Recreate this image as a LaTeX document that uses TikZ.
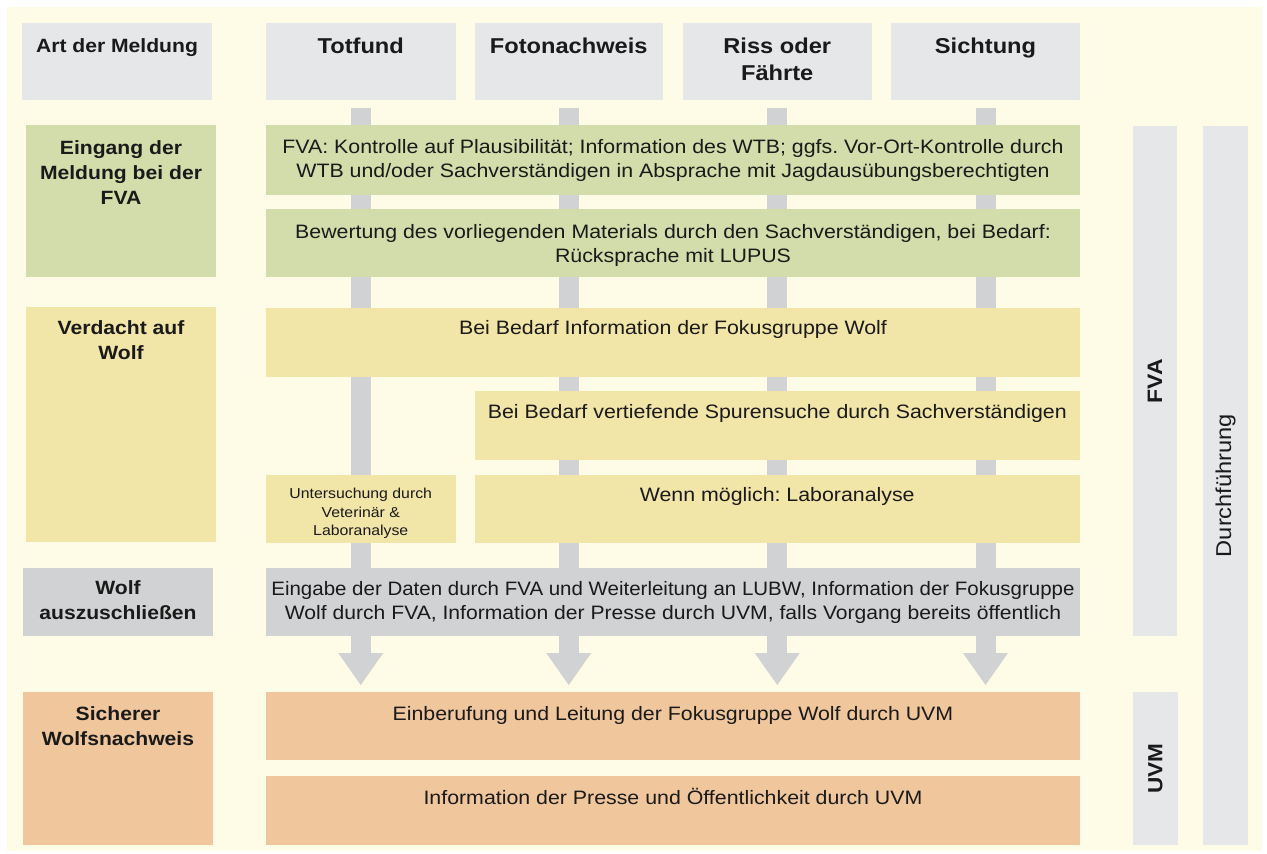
\documentclass[tikz,border=0pt]{standalone}
\usepackage{fontspec}
\usepackage{graphicx}
\setmainfont{Liberation Sans}[FakeStretch=1.1]
\frenchspacing
\usetikzlibrary{arrows.meta}
\pgfdeclarelayer{bg}
\pgfsetlayers{bg,main}
\definecolor{cream}{HTML}{FEFBE6}
\definecolor{hdrgray}{HTML}{E6E7E9}
\definecolor{cgreen}{HTML}{D3DDAB}
\definecolor{cyellow}{HTML}{F2E5A8}
\definecolor{cgray}{HTML}{D1D2D4}
\definecolor{corange}{HTML}{F0C69C}
\definecolor{ink}{HTML}{1A1A1A}
\tikzset{
  box/.style={inner sep=0pt, outer sep=0pt, draw=none},
  body/.style={font=\fontsize{19.4}{24}\selectfont, text=ink, align=center, inner sep=0pt, execute at begin node=\strut},
  lbl/.style={font=\bfseries\fontsize{19.2}{25}\selectfont, text=ink, align=center, inner sep=0pt, execute at begin node=\strut},
  hdr/.style={font=\bfseries\fontsize{21.5}{27}\selectfont, text=ink, align=center, inner sep=0pt, execute at begin node=\strut},
  small/.style={font=\fontsize{14.4}{18.5}\selectfont, text=ink, align=center, inner sep=0pt, execute at begin node=\strut},
  rbar/.style={box, fill=hdrgray, rotate=90, text=ink},
  flow/.style={draw=cgray, line width=20pt, -{Triangle[width=45pt,length=32pt,line width=0pt]}, shorten >=7pt}
}
% name, fill style, x1, y1, x2, y2, text style, offset, text
\newcommand\cell[9]{%
  \node[box, #2, anchor=north west, minimum width={(#5-#3)*1pt}, minimum height={(#6-#4)*1pt},
    label={[#7, anchor=north, yshift={-#8pt}]north:{#9}}] (#1) at (#3,#4) {};}
\begin{document}
\begin{tikzpicture}[x=1pt, y=-1pt]
\useasboundingbox (0,0) rectangle (1267,854);
% header row
\cell{art}{fill=hdrgray}{22}{23}{212}{99.5}{lbl}{11.5}{Art der Meldung}
\cell{tf}{fill=hdrgray}{266}{23}{455.5}{99.5}{hdr}{11.4}{Totfund}
\cell{fn}{fill=hdrgray}{474.5}{23}{663}{99.5}{hdr}{11.4}{Fotonachweis}
\cell{rf}{fill=hdrgray}{683}{23}{871.5}{99.5}{hdr}{14.4}{Riss oder\\Fährte}
\cell{si}{fill=hdrgray}{891}{23}{1080}{99.5}{hdr}{11.4}{Sichtung}
% left labels
\cell{eing}{fill=cgreen}{26}{125}{216}{277}{lbl}{15.5}{Eingang der\\Meldung bei der\\FVA}
\cell{verd}{fill=cyellow}{26}{307}{216}{542}{lbl}{13.5}{Verdacht auf\\Wolf}
\cell{ausz}{fill=cgray}{23}{568}{213}{636}{lbl}{12}{Wolf\\auszuschließen}
\cell{sich}{fill=corange}{23}{692}{213}{845}{lbl}{14}{Sicherer\\Wolfsnachweis}
% middle boxes
\cell{kontr}{fill=cgreen}{266}{125}{1080}{195}{body}{14.5}{FVA: Kontrolle auf Plausibilität; Information des WTB; ggfs. Vor-Ort-Kontrolle durch\\WTB und/oder Sachverständigen in Absprache mit Jagdausübungsberechtigten}
\cell{bew}{fill=cgreen}{266}{209}{1080}{277}{body}{15}{Bewertung des vorliegenden Materials durch den Sachverständigen, bei Bedarf:\\Rücksprache mit LUPUS}
\cell{fok}{fill=cyellow}{266}{308}{1080}{377}{body}{9.5}{Bei Bedarf Information der Fokusgruppe Wolf}
\cell{spur}{fill=cyellow}{474.5}{391}{1080}{460}{body}{10}{Bei Bedarf vertiefende Spurensuche durch Sachverständigen}
\cell{vet}{fill=cyellow}{266}{475}{455.5}{543}{small}{13}{Untersuchung durch\\Veterinär \&\\Laboranalyse}
\cell{labor}{fill=cyellow}{474.5}{475}{1080}{543}{body}{9.5}{Wenn möglich: Laboranalyse}
\cell{eing2}{fill=cgray}{266}{568}{1080}{636}{body}{13}{\scalebox{0.96}[1]{Eingabe der Daten durch FVA und Weiterleitung an LUBW, Information der Fokusgruppe}\\\scalebox{0.99}[1]{Wolf durch FVA, Information der Presse durch UVM, falls Vorgang bereits öffentlich}}
\cell{einb}{fill=corange}{266}{692}{1080}{760}{body}{11.7}{Einberufung und Leitung der Fokusgruppe Wolf durch UVM}
\cell{presse}{fill=corange}{266}{776}{1080}{845}{body}{11.7}{Information der Presse und Öffentlichkeit durch UVM}
% right vertical bars
\node[rbar, minimum width=510pt, minimum height=44pt, font=\bfseries\fontsize{20.9}{25}\selectfont] (fva) at (1155,381) {FVA};
\node[rbar, minimum width=153pt, minimum height=45pt, font=\bfseries\fontsize{20.5}{25}\selectfont] (uvm) at (1155.5,768.5) {UVM};
\node[rbar, minimum width=719pt, minimum height=45pt, font=\fontsize{21.5}{25}\selectfont] (durch) at (1225.5,485.5) {Durchführung};
% background and flow arrows
\begin{pgfonlayer}{bg}
  \fill[cream] (7,7) rectangle (1262,851);
  \foreach \h in {tf,fn,rf,si}
    \draw[flow] ([yshift=-8.5pt]\h.south) -- (\h.south |- einb.north);
\end{pgfonlayer}
\end{tikzpicture}
\end{document}
